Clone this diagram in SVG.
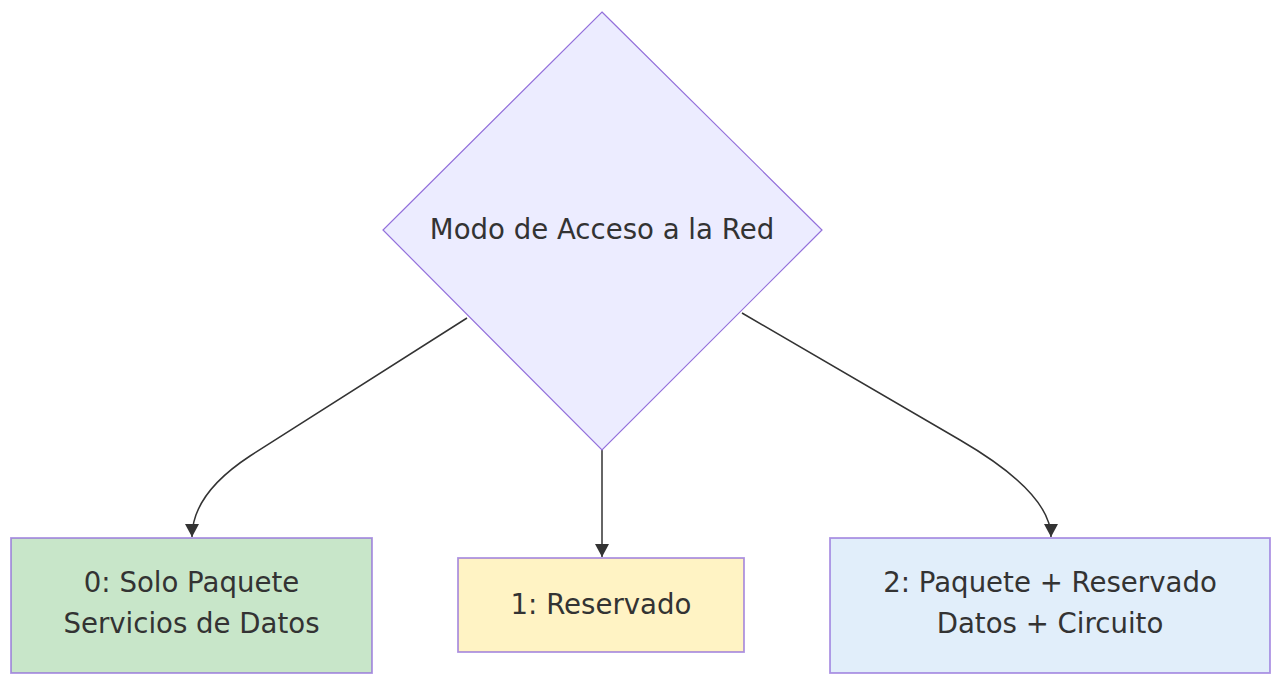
<svg xmlns="http://www.w3.org/2000/svg" width="1273" height="675" viewBox="0 0 1273 675">
<style>
.lbl{font-family:"DejaVu Sans",Verdana,sans-serif;font-size:27.6px;fill:#333;text-anchor:middle}
.edge{fill:none;stroke:#333;stroke-width:1.5}
.box{stroke:#9370DB;stroke-width:1.8;stroke-opacity:0.75}
</style>
<defs>
<marker id="arr" markerUnits="userSpaceOnUse" markerWidth="16" markerHeight="16" refX="13" refY="7" orient="auto">
<path d="M0,0 L13,7 L0,14 z" fill="#333"/>
</marker>
</defs>
<rect width="1273" height="675" fill="#fff"/>
<g id="connectors">
<path class="edge" d="M467,318 L250,456 Q192,494 192,537" marker-end="url(#arr)"/>
<path class="edge" d="M602,450 L602,557" marker-end="url(#arr)"/>
<path class="edge" d="M742,313 L960,440 Q1051,493 1051,537" marker-end="url(#arr)"/>
</g>
<g id="decision">
<polygon points="602,12 822,230 602,450 383,230" fill="#ECECFF" stroke="#9370DB" stroke-width="1.2"/>
<text class="lbl" x="602" y="239">Modo de Acceso a la Red</text>
</g>
<g id="mode0">
<rect class="box" x="11" y="538" width="361" height="135" fill="#C8E6C9"/>
<text class="lbl" x="191.5" y="592">0: Solo Paquete</text>
<text class="lbl" x="191.5" y="633">Servicios de Datos</text>
</g>
<g id="mode1">
<rect class="box" x="458" y="558" width="286" height="94" fill="#FFF3C4"/>
<text class="lbl" x="601" y="614">1: Reservado</text>
</g>
<g id="mode2">
<rect class="box" x="830" y="538" width="440" height="135" fill="#E1EEFA"/>
<text class="lbl" x="1050" y="592">2: Paquete + Reservado</text>
<text class="lbl" x="1050" y="633">Datos + Circuito</text>
</g>
</svg>
